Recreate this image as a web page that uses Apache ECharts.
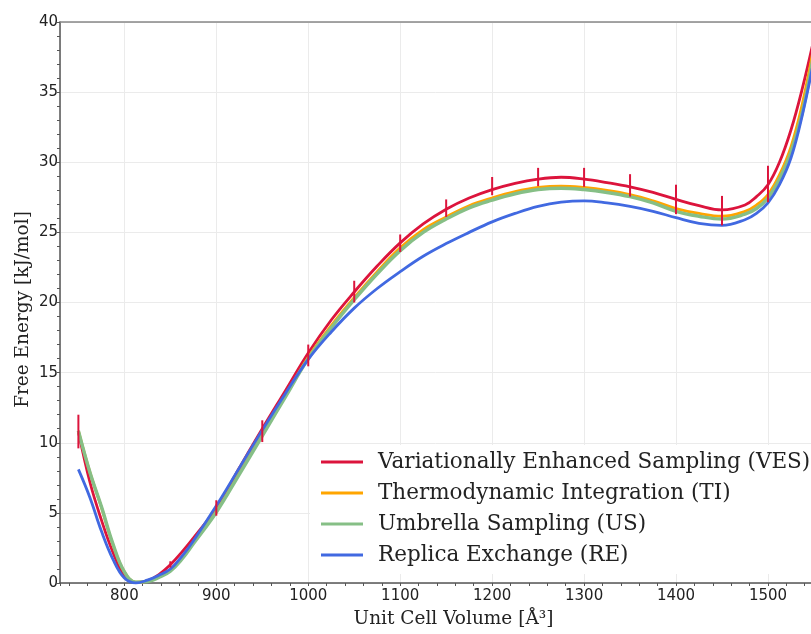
<!DOCTYPE html>
<html>
<head>
<meta charset="utf-8">
<script src="https://cdn.jsdelivr.net/npm/echarts@6/dist/echarts.min.js"></script>
<style>html,body{margin:0;padding:0;background:#fff;}#chart{width:811px;height:634px;}</style>
</head>
<body>
<div id="chart"></div>
<script>
// Unit cell volume (Å^3) sample positions
const volume = [750, 762.5, 775, 787.5, 800, 812.5, 825, 837.5, 850, 862.5, 875, 900, 925, 950, 975, 1000, 1025, 1050, 1075, 1100, 1125, 1150, 1175, 1200, 1225, 1250, 1275, 1300, 1325, 1350, 1375, 1400, 1425, 1450, 1475, 1487.5, 1500, 1512.5, 1525, 1537.5, 1550];
// Free energy (kJ/mol) per method
const vesFE = [10.8, 7.2, 4.5, 2.2, 0.55, 0.02, 0.15, 0.6, 1.3, 2.2, 3.2, 5.35, 8.2, 11.0, 13.7, 16.4, 18.75, 20.75, 22.6, 24.25, 25.6, 26.65, 27.45, 28.05, 28.5, 28.8, 28.93, 28.8, 28.55, 28.25, 27.85, 27.35, 26.9, 26.6, 26.95, 27.55, 28.4, 30.0, 32.3, 35.3, 38.8];
const tiFE  = [10.85, 7.9, 5.4, 2.75, 0.8, 0.06, 0.12, 0.45, 0.95, 1.8, 2.9, 5.15, 7.85, 10.6, 13.35, 16.1, 18.35, 20.35, 22.2, 23.9, 25.2, 26.1, 26.9, 27.45, 27.9, 28.2, 28.3, 28.2, 28.0, 27.7, 27.25, 26.7, 26.35, 26.15, 26.5, 26.95, 27.7, 29.1, 31.1, 34.2, 38.3];
const usFE  = [10.85, 7.9, 5.45, 2.8, 0.8, 0.06, 0.1, 0.4, 0.85, 1.7, 2.8, 5.05, 7.75, 10.5, 13.25, 16.0, 18.2, 20.2, 22.05, 23.7, 25.0, 25.95, 26.75, 27.3, 27.75, 28.05, 28.15, 28.05, 27.85, 27.55, 27.1, 26.5, 26.15, 25.95, 26.3, 26.7, 27.45, 28.8, 30.7, 33.6, 37.8];
const reFE  = [8.1, 6.1, 3.7, 1.7, 0.35, 0.0, 0.2, 0.55, 1.0, 1.9, 3.0, 5.5, 8.2, 10.9, 13.5, 15.95, 17.9, 19.6, 21.0, 22.2, 23.3, 24.2, 25.0, 25.75, 26.35, 26.85, 27.15, 27.25, 27.1, 26.85, 26.5, 26.05, 25.65, 25.5, 25.9, 26.35, 27.1, 28.4, 30.3, 33.4, 37.3];
// VES error bars
const errVolume = [750, 850, 900, 950, 1000, 1050, 1100, 1150, 1200, 1250, 1300, 1350, 1400, 1450, 1500];
const errLow  = [9.6, 1.1, 4.8, 10.05, 15.45, 20.0, 23.6, 26.1, 27.65, 28.3, 28.25, 27.55, 26.3, 25.5, 27.15];
const errHigh = [12.0, 1.55, 5.9, 11.6, 17.0, 21.55, 24.85, 27.35, 28.95, 29.6, 29.6, 29.15, 28.4, 27.6, 29.75];

const seriesNames = ['Variationally Enhanced Sampling (VES)', 'Thermodynamic Integration (TI)', 'Umbrella Sampling (US)', 'Replica Exchange (RE)'];
const seriesColors = ['#dc143c', '#ffa500', '#86bf86', '#4169e1'];
const seriesValues = [vesFE, tiFE, usFE, reFE];

const chart = echarts.init(document.getElementById('chart'), null, {renderer: 'canvas'});
const lineSeries = seriesValues.map((vals, i) => ({
  name: seriesNames[i],
  type: 'line',
  data: volume.map((v, j) => [v, vals[j]]),
  smooth: 0.4,
  showSymbol: false,
  symbol: 'none',
  lineStyle: {color: seriesColors[i], width: i === 2 ? 3.5 : 2.8},
  itemStyle: {color: seriesColors[i]},
  z: 2 + i
}));
const errSeries = {
  type: 'custom',
  name: 'err',
  data: errVolume.map((v, j) => [v, errLow[j], errHigh[j]]),
  renderItem: function (params, api) {
    const p0 = api.coord([api.value(0), api.value(1)]);
    const p1 = api.coord([api.value(0), api.value(2)]);
    return {type: 'line', shape: {x1: p0[0], y1: p0[1], x2: p1[0], y2: p1[1]}, style: {stroke: '#dc143c', lineWidth: 2}};
  },
  z: 10
};

const tickFont = {fontFamily: 'DejaVu Sans', fontSize: 15, color: '#222'};
chart.setOption({
  animation: false,
  backgroundColor: '#fff',
  grid: {left: 60, top: 22, right: 0, height: 562},
  legend: {
    data: seriesNames,
    orient: 'vertical',
    left: 310, top: 445,
    padding: [4, 10, 6, 11],
    backgroundColor: '#fff',
    itemWidth: 42, itemHeight: 14, itemGap: 5,
    icon: 'path://M0,6 L42,6 L42,9 L0,9 Z',
    textStyle: {fontFamily: 'DejaVu Serif', fontSize: 21.5, color: '#222', lineHeight: 26, padding: [0, 0, 0, 10]}
  },
  xAxis: [{
    type: 'value', min: 730, max: 1546.8,
    splitNumber: 8,
    name: 'Unit Cell Volume [Å³]', nameLocation: 'middle', nameGap: 27,
    nameTextStyle: {fontFamily: 'DejaVu Serif', fontSize: 18.5, color: '#222', padding: [0, 0, 0, 36]},
    axisLine: {onZero: false, lineStyle: {color: '#555', width: 1.5}},
    axisTick: {show: true, inside: false, length: 3, lineStyle: {color: '#555'}},
    minorTick: {show: true, splitNumber: 5, length: 3, lineStyle: {color: '#555'}},
    splitLine: {show: true, lineStyle: {color: '#ebebeb', width: 1}},
    axisLabel: Object.assign({margin: 6, showMinLabel: false, showMaxLabel: false,
      formatter: v => (v % 100 === 0 ? String(v) : '')}, tickFont)
  }, {
    type: 'value', position: 'top', min: 730, max: 1546.8,
    axisLine: {show: true, onZero: false, lineStyle: {color: '#888', width: 1.5}},
    axisTick: {show: false}, axisLabel: {show: false}, splitLine: {show: false}
  }],
  yAxis: {
    type: 'value', min: 0, max: 40, interval: 5,
    name: 'Free Energy [kJ/mol]', nameLocation: 'middle', nameGap: 27, nameMoveOverlap: false,
    nameTextStyle: {fontFamily: 'DejaVu Serif', fontSize: 18.5, color: '#222', padding: [0, 14, 0, 0]},
    axisLine: {show: true, lineStyle: {color: '#555', width: 1.5}},
    axisTick: {show: true, length: 3, lineStyle: {color: '#555'}},
    minorTick: {show: true, splitNumber: 5, length: 3, lineStyle: {color: '#555'}},
    splitLine: {show: true, lineStyle: {color: '#ebebeb', width: 1}},
    axisLabel: Object.assign({margin: 2}, tickFont)
  },
  series: lineSeries.concat([errSeries])
});
</script>
</body>
</html>
